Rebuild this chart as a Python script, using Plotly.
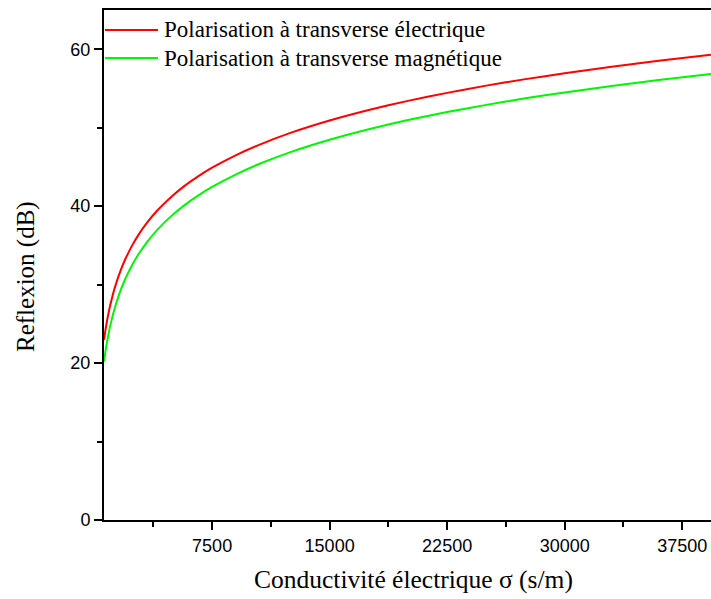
import plotly.graph_objects as go

# Conductivité électrique sigma (s/m)
sigma = [600, 700, 800, 900, 1000, 1200, 1400, 1700, 2000, 2400, 2800, 3300,
         4000, 4800, 5700, 6700, 7500, 9000, 10500, 12500, 15000, 17500,
         20000, 22500, 25000, 27500, 30000, 33000, 36000, 39340]
# Reflexion (dB), polarisation TE
refl_te = [22.96, 24.30, 25.46, 26.48, 27.40, 28.98, 30.32, 32.01, 33.42, 35.00,
           36.34, 37.77, 39.44, 41.02, 42.52, 43.92, 44.90, 46.48, 47.82, 49.34,
           50.92, 52.26, 53.42, 54.44, 55.36, 56.19, 56.94, 57.77, 58.53, 59.30]
# Reflexion (dB), polarisation TM
refl_tm = [20.20, 21.58, 22.77, 23.82, 24.77, 26.39, 27.76, 29.48, 30.91, 32.51,
           33.86, 35.30, 36.98, 38.57, 40.07, 41.47, 42.45, 44.03, 45.37, 46.89,
           48.47, 49.81, 50.97, 51.99, 52.91, 53.74, 54.49, 55.32, 56.08, 56.85]

x_ticks = [7500, 15000, 22500, 30000, 37500]
y_ticks = [0, 20, 40, 60]

names = ["Polarisation à transverse électrique", "Polarisation à transverse magnétique"]
colors = ["#ff0000", "#00f500"]

SERIF = "Times New Roman, Liberation Serif, serif"
SANS = "Arial, Liberation Sans, sans-serif"

fig = go.Figure()
for yv, nm, c in zip([refl_te, refl_tm], names, colors):
    fig.add_trace(go.Scatter(x=sigma, y=yv, mode="lines", name=nm,
                             line=dict(color=c, width=2, shape="spline", smoothing=0.5)))

L, R, T, B = 104, 0, 10, 79
W, H = 711, 599
pw, ph = W - L - R, H - T - B

fig.update_layout(
    width=W, height=H,
    margin=dict(l=L, r=R, t=T, b=B, pad=0),
    paper_bgcolor="white", plot_bgcolor="white",
    showlegend=False,
    font=dict(family=SANS, size=18, color="black"),
)
fig.update_xaxes(
    range=[600, 39340], tickvals=x_ticks, ticktext=[str(v) for v in x_ticks],
    showgrid=False, zeroline=False, showline=True, linecolor="black", linewidth=2,
    mirror=True, ticks="outside", ticklen=8, tickwidth=1.5, tickcolor="black",
    minor=dict(tickvals=[3750, 11250, 18750, 26250, 33750], ticks="outside",
               ticklen=5, tickwidth=1.5, tickcolor="black"),
    tickfont=dict(family=SANS, size=18),
)
fig.update_yaxes(
    range=[0, 65], tickvals=y_ticks,
    showgrid=False, zeroline=False, showline=True, linecolor="black", linewidth=2,
    mirror=False, ticks="outside", ticklen=8, tickwidth=1.5, tickcolor="black",
    minor=dict(tickvals=[10, 30, 50], ticks="outside", ticklen=5, tickwidth=1.5,
               tickcolor="black"),
    tickfont=dict(family=SANS, size=18),
)

def px_x(p):
    return (p - L) / pw

def px_y(p):
    return (H - B - p) / ph

# legend drawn manually
for i, (nm, c) in enumerate(zip(names, colors)):
    yy = [30, 58][i]
    fig.add_shape(type="line", xref="paper", yref="paper",
                  x0=px_x(105), x1=px_x(158), y0=px_y(yy), y1=px_y(yy),
                  line=dict(color=c, width=2))
    fig.add_annotation(xref="paper", yref="paper", x=px_x(162), y=px_y(yy),
                       text=nm, showarrow=False, xanchor="left", yanchor="middle",
                       font=dict(family=SERIF, size=23, color="black"))

fig.add_annotation(xref="paper", yref="paper", x=px_x(413), y=px_y(579),
                   text="Conductivité électrique σ (s/m)", showarrow=False,
                   xanchor="center", yanchor="middle",
                   font=dict(family=SERIF, size=25.5, color="black"))
fig.add_annotation(xref="paper", yref="paper", x=px_x(26), y=px_y(277),
                   text="Reflexion (dB)", showarrow=False, textangle=-90,
                   xanchor="center", yanchor="middle",
                   font=dict(family=SERIF, size=25, color="black"))

fig.write_html("out.html", config={"displayModeBar": False})

# remove default page margin so the figure sits at the window's top-left corner
with open("out.html", "r", encoding="utf-8") as f:
    html = f.read()
html = html.replace("<head>", "<head><style>html,body{margin:0;padding:0;overflow:hidden;}</style>", 1)
with open("out.html", "w", encoding="utf-8") as f:
    f.write(html)
